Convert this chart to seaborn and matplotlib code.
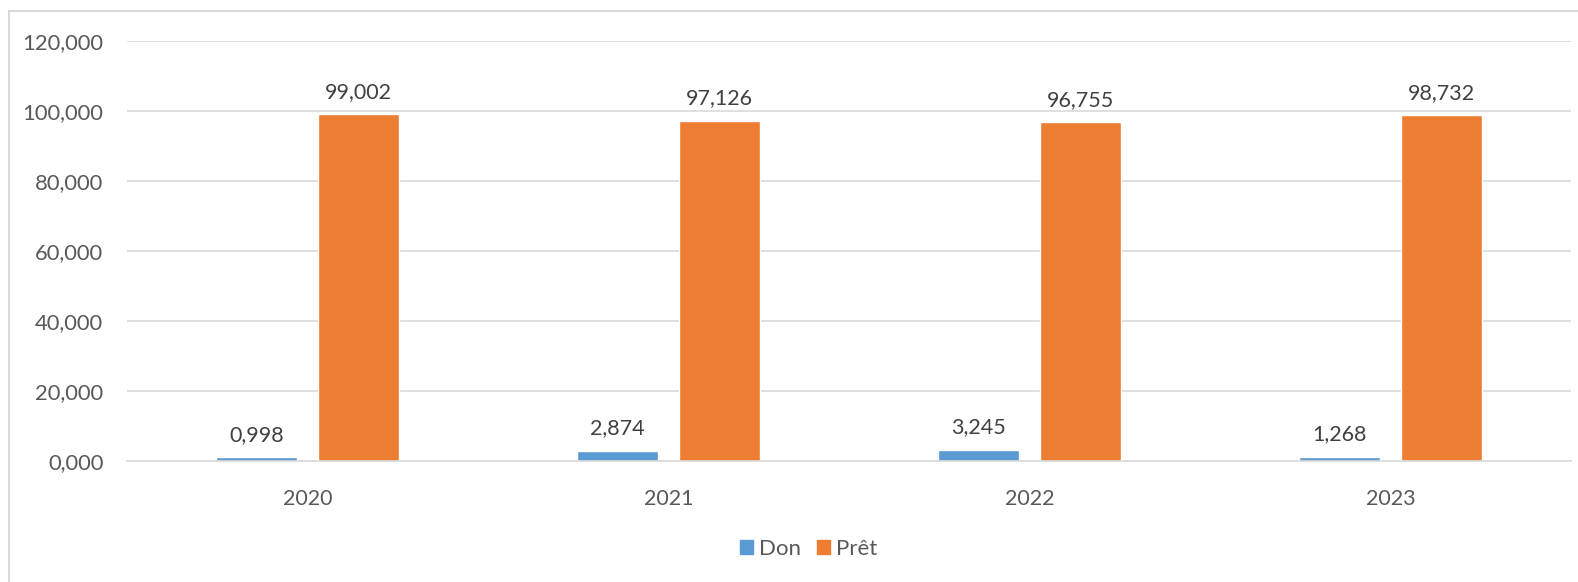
import pandas as pd
import seaborn as sns
from matplotlib import pyplot as plt
from matplotlib.patches import Rectangle

years = ["2020", "2021", "2022", "2023"]
don = [0.998, 2.874, 3.245, 1.268]
pret = [99.002, 97.126, 96.755, 98.732]
series = ["Don", "Prêt"]
colors = ["#5B9BD5", "#ED7D31"]

df = pd.DataFrame({
    "Année": years * 2,
    "Valeur": don + pret,
    "Type": ["Don"] * len(years) + ["Prêt"] * len(years),
})

sns.set_style("white")
plt.rcParams["font.family"] = ["Lato", "DejaVu Sans"]
txt = "#595959"

fig = plt.figure(figsize=(15.78, 5.82), dpi=100)
ax = fig.add_axes([0.0805, 0.208, 0.915, 0.7216])

sns.barplot(data=df, x="Année", y="Valeur", hue="Type", hue_order=series,
            palette=colors, width=0.565, gap=0.2, saturation=1, ax=ax, legend=False)

def fmt(v):
    return f"{v:,.3f}".replace(".", "#").replace(",", " ").replace("#", ",")

for c in ax.containers:
    ax.bar_label(c, labels=[fmt(v) for v in c.datavalues], padding=9,
                 fontsize=15.5, color="#404040")

ax.set_ylim(0, 120)
ax.set_yticks(range(0, 121, 20))
ax.set_yticklabels([fmt(v) for v in range(0, 121, 20)], fontsize=15.8, color=txt)
ax.tick_params(axis="x", labelsize=15.5, labelcolor=txt, pad=20, length=0)
ax.tick_params(axis="y", length=0, pad=17)
ax.set_xlabel("")
ax.set_ylabel("")
ax.yaxis.grid(True, color="#D9D9D9", linewidth=1.2)
ax.set_axisbelow(True)
for s in ["top", "right", "left"]:
    ax.spines[s].set_visible(False)
ax.spines["bottom"].set_color("#D9D9D9")
ax.spines["bottom"].set_linewidth(1.2)

handles = [Rectangle((0, 0), 1, 1, color=c) for c in colors]
fig.legend(handles, series, loc="center", bbox_to_anchor=(0.5124, 0.0567), ncol=2,
           frameon=False, fontsize=16, labelcolor=txt, handlelength=0.58,
           handleheight=0.58, handletextpad=0.25, columnspacing=0.75)

# chart area border (right and bottom fall outside the picture)
fig.add_artist(plt.Line2D([0.0054, 0.0054], [0, 0.981], color="#D9D9D9", lw=1.5))
fig.add_artist(plt.Line2D([0.0054, 1], [0.981, 0.981], color="#D9D9D9", lw=1.5))

plt.savefig("out.png", dpi=100)
